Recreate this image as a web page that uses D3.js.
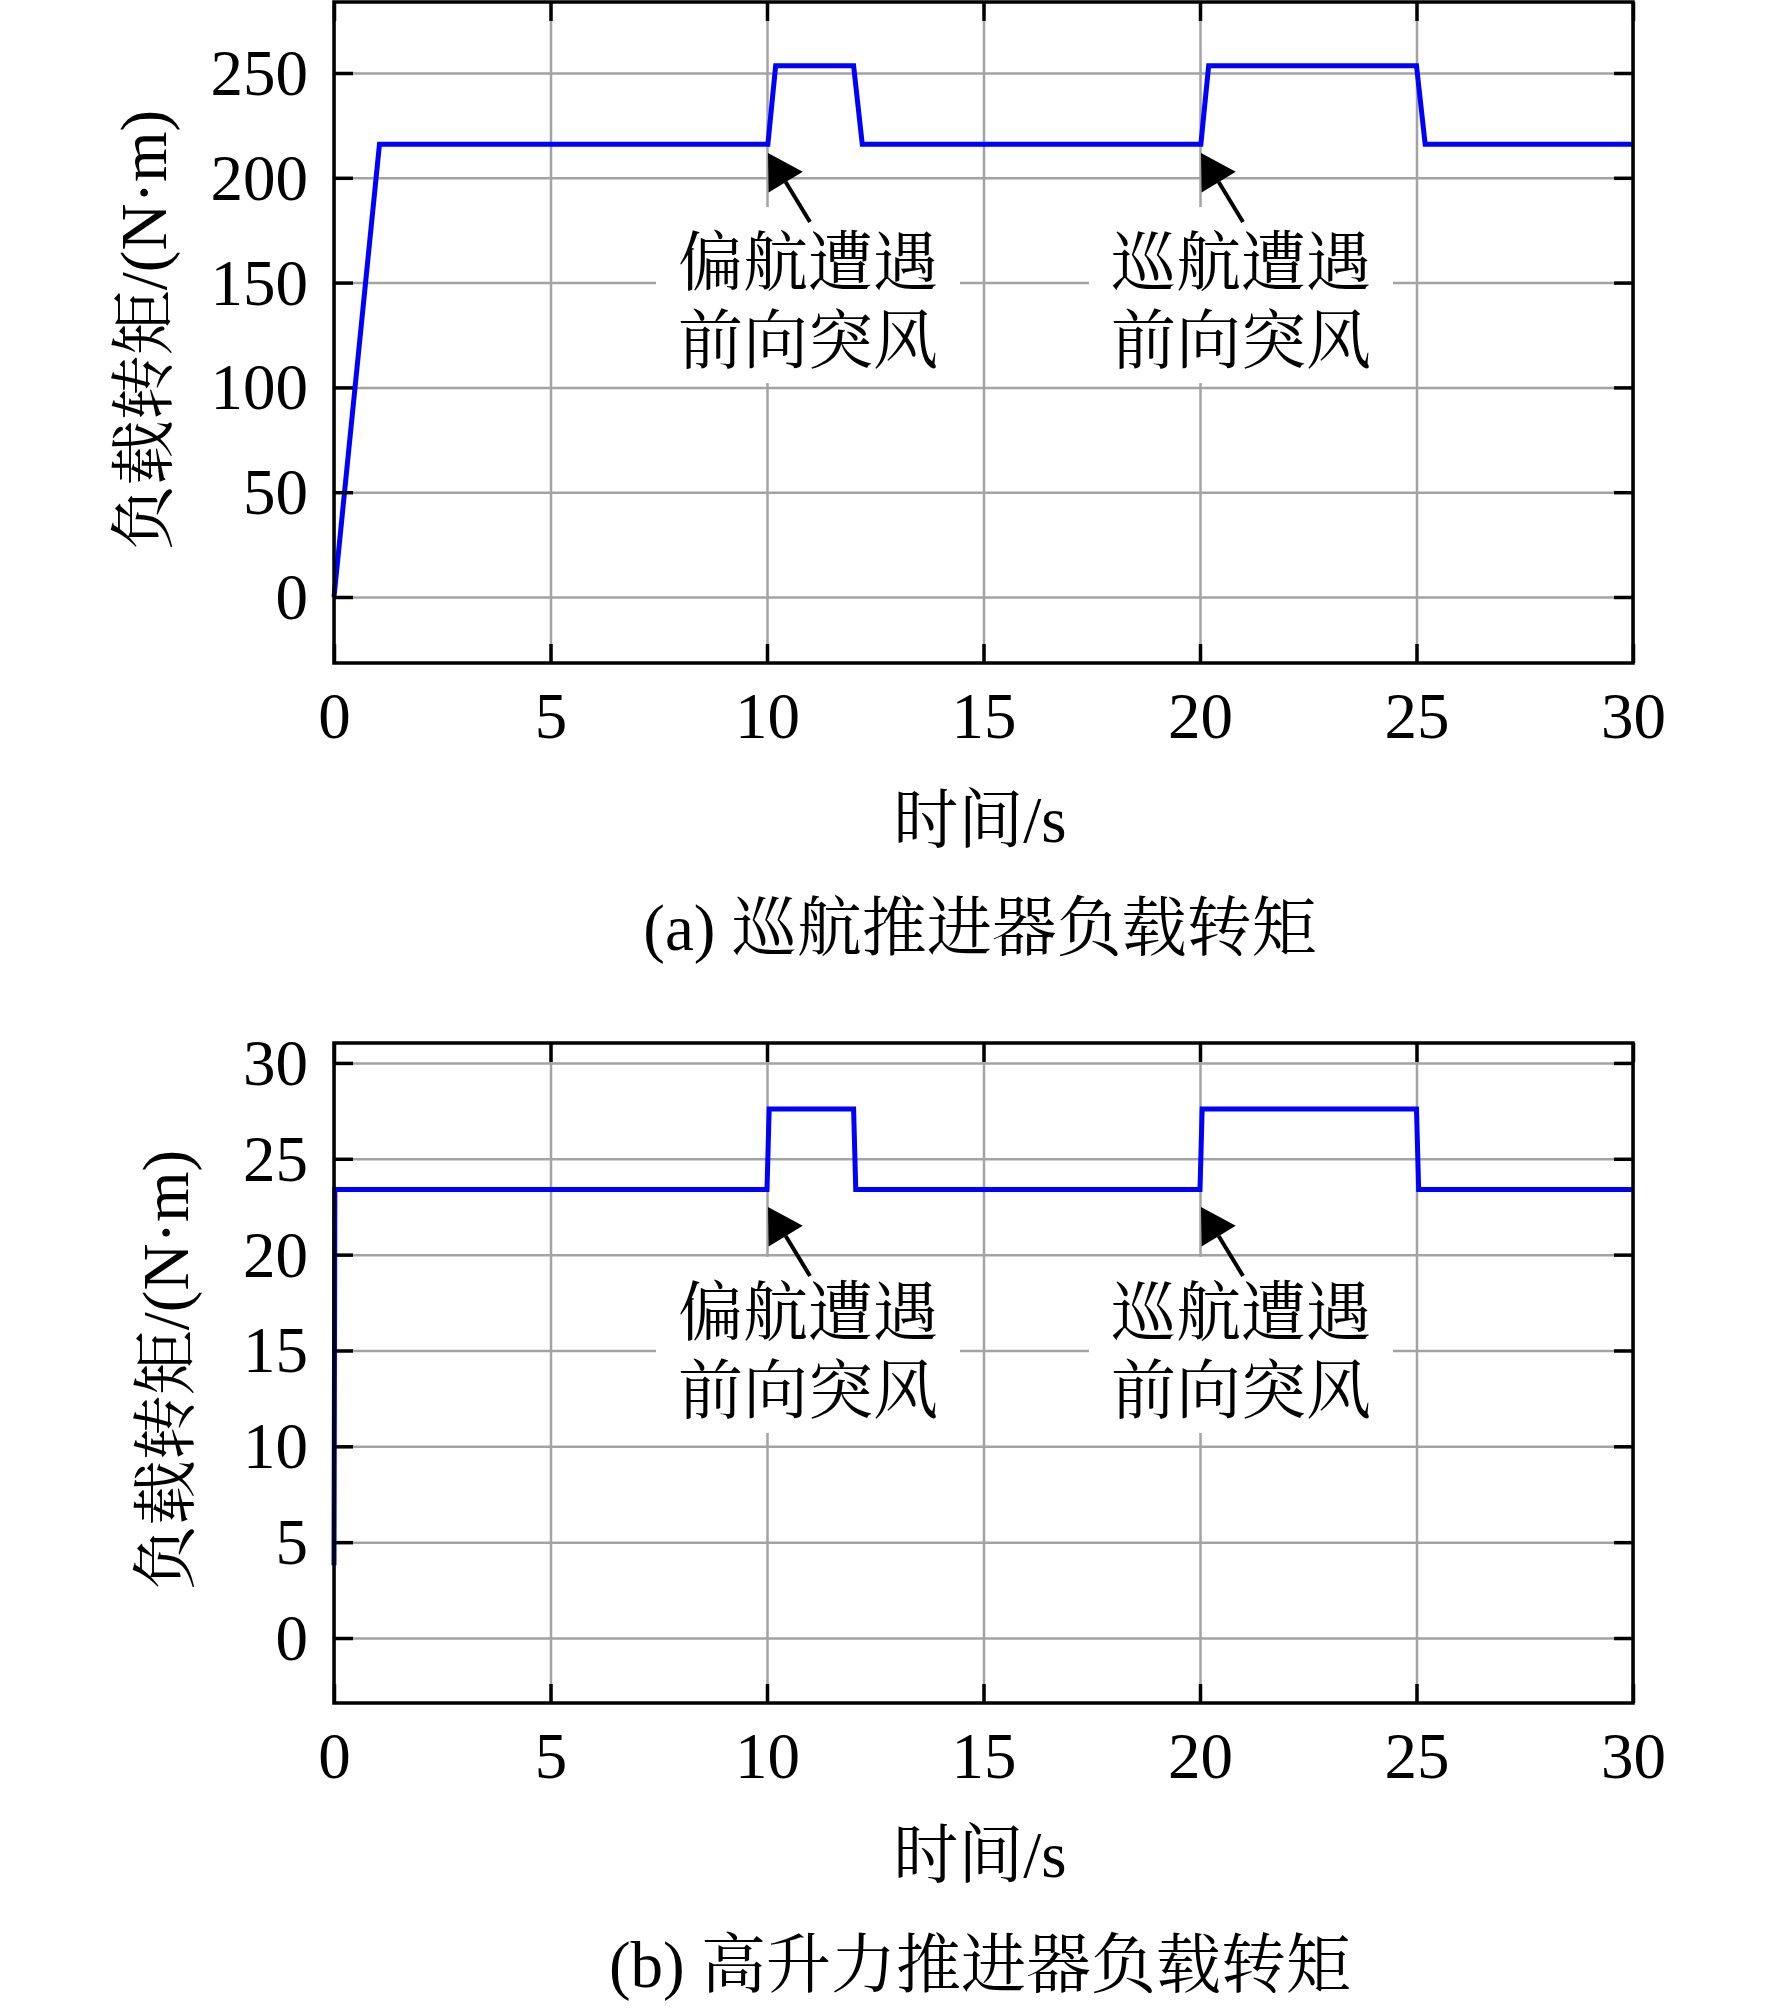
<!DOCTYPE html>
<html>
<head>
<meta charset="utf-8">
<script src="https://cdn.jsdelivr.net/npm/d3@7"></script>
<style>
body { margin: 0; background: #fff; }
text { font-family: "Liberation Serif", "Times New Roman", "Noto Serif CJK SC", "Noto Sans CJK SC", serif; fill: #000; }
</style>
</head>
<body>
<script>
var width = 1772, height = 2012, fontSize = 65

// shared x axis
var xTicks = [0, 5, 10, 15, 20, 25, 30]

// (a) cruise thruster load torque
var timeA = [0, 1.05, 10.02, 10.2, 12.0, 12.2, 20.02, 20.2, 25.0, 25.2, 30]
var torqueA = [0, 216, 216, 253.5, 253.5, 216, 216, 253.5, 253.5, 216, 216]
var yTicksA = [0, 50, 100, 150, 200, 250]

// (b) high-lift thruster load torque
var timeB = [0, 0.02, 10.0, 10.05, 12.0, 12.05, 20.0, 20.05, 25.0, 25.05, 30]
var torqueB = [3.8, 23.4, 23.4, 27.6, 27.6, 23.4, 23.4, 27.6, 27.6, 23.4, 23.4]
var yTicksB = [0, 5, 10, 15, 20, 25, 30]

var eventTimes = [10, 20]
var eventLabels = [["偏航遭遇", "前向突风"], ["巡航遭遇", "前向突风"]]
var xTitle = "时间/s", yTitle = "负载转矩/(N·m)"
var captions = ["(a) 巡航推进器负载转矩", "(b) 高升力推进器负载转矩"]

var svg = d3.select("body").append("svg")
    .attr("width", width).attr("height", height)
    .style("background", "#fff")

var left = 334, right = 1633

function drawPanel(p) {
    var g = svg.append("g")
    var x = d3.scaleLinear().domain([0, 30]).range([left, right])
    var y = d3.scaleLinear().domain(p.yDomain).range([p.bottom, p.top])

    // grid
    var xGrid = d3.axisBottom(x).tickValues(xTicks).tickFormat('')
        .tickSizeInner(-(p.bottom - p.top)).tickSizeOuter(0)
    var yGrid = d3.axisLeft(y).tickValues(p.yTicks).tickFormat('')
        .tickSizeInner(-(right - left)).tickSizeOuter(0)
    g.append("g").attr("transform", "translate(0," + p.bottom + ")").call(xGrid)
    g.append("g").attr("transform", "translate(" + left + ",0)").call(yGrid)
    g.selectAll(".domain").remove()
    g.selectAll(".tick line").attr("stroke", "#a3a3a3").attr("stroke-width", 2.5)

    // data
    var line = d3.line().x(d => x(d[0])).y(d => y(d[1]))
    g.append("path").datum(d3.zip(p.time, p.torque))
        .attr("d", line).attr("fill", "none")
        .attr("stroke", "#0000ff").attr("stroke-width", 5)
        .attr("stroke-linejoin", "miter")

    // annotations
    eventTimes.forEach(function(t, i) {
        var cx = x(t) + 41
        var ag = g.append("g")
        var box = ag.append("rect").attr("fill", "#fff")
        var txt = ag.append("g")
        eventLabels[i].forEach(function(s, j) {
            txt.append("text").attr("x", cx).attr("y", p.top + p.textTop + j * 78)
                .attr("text-anchor", "middle").style("font-size", fontSize + "px").text(s)
        })
        var bb = txt.node().getBBox()
        box.attr("x", bb.x - 22).attr("y", bb.y - 20)
            .attr("width", bb.width + 44).attr("height", bb.height + 26)

        var tx = x(t) + 1, ty = p.top + p.tipTop
        var dx = 42, dy = 69, len = Math.sqrt(dx * dx + dy * dy)
        var ux = dx / len, uy = dy / len
        var bx = tx + ux * 34, by = ty + uy * 34
        ag.append("line").attr("x1", bx).attr("y1", by)
            .attr("x2", tx + dx).attr("y2", ty + dy)
            .attr("stroke", "#000").attr("stroke-width", 4)
        ag.append("path")
            .attr("d", "M" + tx + "," + ty + "L" + (bx - uy * 20) + "," + (by + ux * 20) +
                "L" + (bx + uy * 20) + "," + (by - ux * 20) + "Z")
            .attr("fill", "#000")
    })

    // inward ticks on all four sides
    var tl = 19
    var bottomAx = d3.axisBottom(x).tickValues(xTicks).tickSizeInner(-tl).tickSizeOuter(0)
    var topAx = d3.axisTop(x).tickValues(xTicks).tickFormat('').tickSizeInner(-tl).tickSizeOuter(0)
    var leftAx = d3.axisLeft(y).tickValues(p.yTicks).tickSizeInner(-tl).tickSizeOuter(0)
    var rightAx = d3.axisRight(y).tickValues(p.yTicks).tickFormat('').tickSizeInner(-tl).tickSizeOuter(0)

    var axes = g.append("g")
    var gb = axes.append("g").attr("transform", "translate(0," + p.bottom + ")").call(bottomAx)
    axes.append("g").attr("transform", "translate(0," + p.top + ")").call(topAx)
    var gl = axes.append("g").attr("transform", "translate(" + left + ",0)").call(leftAx)
    axes.append("g").attr("transform", "translate(" + right + ",0)").call(rightAx)
    axes.selectAll(".domain").remove()
    axes.selectAll(".tick line").attr("stroke", "#000").attr("stroke-width", 3.5)
    axes.selectAll("text").attr("fill", "#000")
        .style("font-size", fontSize + "px").attr("font-family", null)

    gb.selectAll("text").attr("y", 75).attr("dy", null)
    gl.selectAll("text").attr("x", -26).attr("dy", "0.33em")

    // frame
    g.append("rect").attr("x", left).attr("y", p.top)
        .attr("width", right - left).attr("height", p.bottom - p.top)
        .attr("fill", "none").attr("stroke", "#000").attr("stroke-width", 3.5)

    // titles
    g.append("text").attr("transform", "translate(" + p.yLabelX + "," + p.yLabelY + ") rotate(-90)")
        .attr("text-anchor", "middle").style("font-size", fontSize + "px").text(yTitle)
    g.append("text").attr("x", 980).attr("y", p.xTitleY)
        .attr("text-anchor", "middle").style("font-size", fontSize + "px").text(xTitle)
    g.append("text").attr("x", 980).attr("y", p.captionY)
        .attr("text-anchor", "middle").style("font-size", fontSize + "px").text(p.caption)
}

drawPanel({
    top: 2, bottom: 663, yDomain: [-31.49, 283.87], yTicks: yTicksA,
    time: timeA, torque: torqueA, textTop: 283, tipTop: 151,
    yLabelX: 166, yLabelY: 330, xTitleY: 842, captionY: 950, caption: captions[0]
})
drawPanel({
    top: 1043, bottom: 1703, yDomain: [-3.39, 31.04], yTicks: yTicksB,
    time: timeB, torque: torqueB, textTop: 292, tipTop: 164,
    yLabelX: 188, yLabelY: 1370, xTitleY: 1877, captionY: 1987, caption: captions[1]
})
</script>
</body>
</html>
